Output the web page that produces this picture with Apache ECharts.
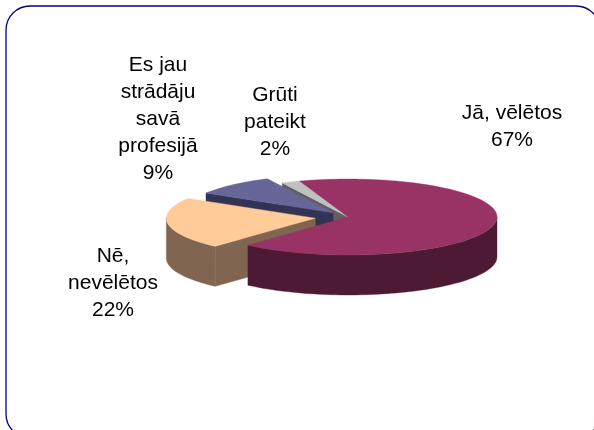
<!DOCTYPE html>
<html><head><meta charset="utf-8">
<style>html,body{margin:0;padding:0;background:#fff}#c{width:594px;height:430px}</style>
<script src="https://cdn.jsdelivr.net/npm/echarts@6/dist/echarts.min.js"></script>
</head><body><div id="c"></div>
<script>
const categories = ['Jā, vēlētos', 'Nē,\nnevēlētos', 'Es jau\nstrādāju\nsavā\nprofesijā', 'Grūti\npateikt'];
const values = [67, 22, 9, 2];
const explode = [0, 33, 22, 0];
const topColors = ['#993366', '#FFCC99', '#666699', '#C0C0C0'];
const wallColors = ['#4D1A33', '#806650', '#333355', '#606060'];
const labelPos = [[512, 127], [113, 283], [158, 119], [275, 122]];

const CX = 348, CY = 217, RX = 149, RY = 38, DEPTH = 40, START = -19;
const total = values.reduce((a, b) => a + b, 0);
const rad = d => d * Math.PI / 180;
const pt = (c, a, dy) => [c[0] + RX * Math.sin(rad(a)), c[1] - RY * Math.cos(rad(a)) + (dy || 0)];
function arc(c, a0, a1, dy) {
  const n = Math.max(2, Math.ceil(Math.abs(a1 - a0) / 2)), out = [];
  for (let i = 0; i <= n; i++) out.push(pt(c, a0 + (a1 - a0) * i / n, dy));
  return out;
}
const spans = [];
values.reduce((acc, v) => { const s = v / total * 360; spans.push([acc, acc + s]); return acc + s; }, START);

function renderSlice(params, api) {
  const i = api.value(0);
  const [a0, a1] = spans[i];
  const mid = (a0 + a1) / 2, e = explode[i];
  const c = [CX + e * Math.sin(rad(mid)), CY - e * RY / RX * Math.cos(rad(mid))];
  const children = [];
  const poly = (points, fill) => children.push({ type: 'polygon', shape: { points }, style: { fill, stroke: fill, lineWidth: 0.4 } });
  const cBot = [c[0], c[1] + DEPTH];
  // radial wall facing the viewer (the large slice's wall is hidden by its neighbours)
  if (a1 - a0 < 180) {
    if (Math.sin(rad(a0)) < 0) poly([c, pt(c, a0), pt(c, a0, DEPTH), cBot], wallColors[i]);
    if (Math.sin(rad(a1)) > 0) poly([c, pt(c, a1), pt(c, a1, DEPTH), cBot], wallColors[i]);
  }
  // outer wall on the front half of the rim
  [[a0, a1], [a0 + 360, a1 + 360], [a0 - 360, a1 - 360]].forEach(r => {
    const f0 = Math.max(r[0], 90), f1 = Math.min(r[1], 270);
    if (f1 > f0) poly(arc(c, f0, f1).concat(arc(c, f1, f0, DEPTH)), wallColors[i]);
  });
  // top face
  poly([c].concat(arc(c, a0, a1)), topColors[i]);
  return { type: 'group', children };
}
// painted back to front
const order = [3, 2, 1, 0];
const option = {
  animation: false,
  backgroundColor: '#ffffff',
  graphic: [{
    type: 'rect', shape: { x: 6, y: 6, width: 594, height: 432, r: 24 },
    style: { fill: 'none', stroke: '#000080', lineWidth: 1.3 }, silent: true
  }],
  xAxis: { show: false, min: 0, max: 1 }, yAxis: { show: false, min: 0, max: 1 },
  grid: { left: 0, right: 0, top: 0, bottom: 0 },
  series: [{
    type: 'custom', coordinateSystem: 'none', silent: true,
    renderItem: renderSlice, data: order.map(i => [i]), encode: {}
  }, {
    type: 'custom', coordinateSystem: 'none', silent: true,
    renderItem(params, api) {
      const i = api.value(0);
      return { type: 'text', x: labelPos[i][0], y: labelPos[i][1], style: {
        text: categories[i] + '\n' + values[i] + '%', fill: '#000',
        font: '21px "Liberation Sans", Arial, sans-serif', lineHeight: 27, align: 'center', verticalAlign: 'middle' } };
    },
    data: [[0], [1], [2], [3]]
  }]
};
echarts.init(document.getElementById('c'), null, { renderer: 'canvas' }).setOption(option);
</script></body></html>
